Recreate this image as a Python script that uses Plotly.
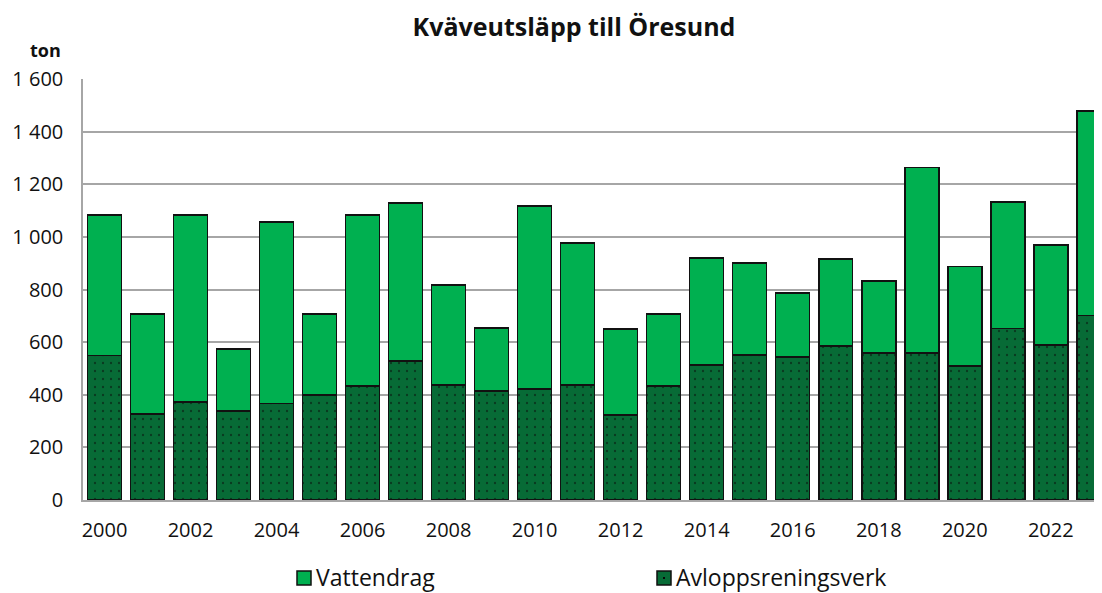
import plotly.graph_objects as go

years = list(range(2000, 2024))
avlopp = [549, 327, 373, 338, 366, 399, 433, 528, 437, 414, 422, 437,
          323, 433, 513, 551, 544, 585, 558, 558, 509, 651, 589, 701]
totals = [1083, 707, 1083, 574, 1057, 707, 1083, 1129, 817, 654, 1118, 977,
          650, 707, 920, 901, 787, 916, 833, 1264, 887, 1132, 970, 1478]
vattendrag = [t - a for t, a in zip(totals, avlopp)]

ytick_vals = [0, 200, 400, 600, 800, 1000, 1200, 1400, 1600]
ytick_text = ["0", "200", "400", "600", "800", "1 000", "1 200", "1 400", "1 600"]
xtick_vals = list(range(2000, 2024, 2))
xtick_text = [str(y) for y in xtick_vals]

FONT = "Open Sans"
LIGHT = "#00B050"
DARK = "#076B36"
EDGE = "#111111"

fig = go.Figure()
fig.add_trace(go.Bar(
    x=years, y=avlopp, name="Avloppsreningsverk", showlegend=False,
    marker=dict(color=DARK, line=dict(color=EDGE, width=1.5),
                pattern=dict(shape=".", fgcolor="#0a0a0a", bgcolor=DARK, size=8, solidity=0.07)),
    width=0.79,
))
fig.add_trace(go.Bar(
    x=years, y=vattendrag, name="Vattendrag", showlegend=False,
    marker=dict(color=LIGHT, line=dict(color=EDGE, width=1.5)),
    width=0.79,
))

# page body has an 8px margin; work in screen pixels and convert
OFF = 8
W, H = 1102 - OFF, 593 - OFF
L, T = 83 - OFF, 79 - OFF
B = H - (500 - OFF)
R = 0
PW, PH = W - L - R, H - T - B


def px(x):
    return (x - OFF - L) / PW


def py(y):
    return (H - B - (y - OFF)) / PH


fig.update_layout(
    width=W, height=H,
    barmode="stack",
    plot_bgcolor="white", paper_bgcolor="white",
    margin=dict(l=L, r=R, t=T, b=B, autoexpand=False),
    font=dict(family=FONT, size=20, color="#111111"),
    title=dict(text="<b>Kväveutsläpp till Öresund</b>", x=(574 - OFF) / W, xanchor="center",
               y=1 - (27 - OFF) / H, yanchor="middle", font=dict(family=FONT, size=25, color="#111111")),
    showlegend=False,
)
fig.update_yaxes(range=[0, 1600], tickvals=ytick_vals, ticktext=ytick_text,
                 showgrid=True, gridcolor="#A6A6A6", gridwidth=1.5,
                 showline=True, linecolor="#A6A6A6", linewidth=1.5,
                 ticks="", ticklabelstandoff=14, zeroline=False, automargin=False)
fig.update_xaxes(range=[1999.5, 2023.19], tickvals=xtick_vals, ticktext=xtick_text,
                 showgrid=False, showline=True, linecolor="#A6A6A6", linewidth=1.5,
                 ticks="", ticklabelstandoff=11, zeroline=False, automargin=False)

fig.add_annotation(text="<b>ton</b>", xref="paper", yref="paper",
                   x=px(63), y=py(50), xanchor="right", yanchor="middle",
                   showarrow=False, font=dict(family=FONT, size=18, color="#111111"))

# manual legend
legend_items = [("Vattendrag", LIGHT, 297), ("Avloppsreningsverk", DARK, 657)]
for label, color, sx in legend_items:
    fig.add_shape(type="rect", xref="paper", yref="paper",
                  x0=px(sx), x1=px(sx + 14), y0=py(585), y1=py(571),
                  fillcolor=color, line=dict(color=EDGE, width=1.5))
    fig.add_annotation(text=label, xref="paper", yref="paper",
                       x=px(sx + 17), y=py(577), xanchor="left", yanchor="middle",
                       showarrow=False, font=dict(family=FONT, size=23, color="#111111"))
fig.add_shape(type="rect", xref="paper", yref="paper",
              x0=px(663), x1=px(665), y0=py(579), y1=py(577),
              fillcolor="#0a0a0a", line=dict(width=0))

fig.write_html("out.html")
